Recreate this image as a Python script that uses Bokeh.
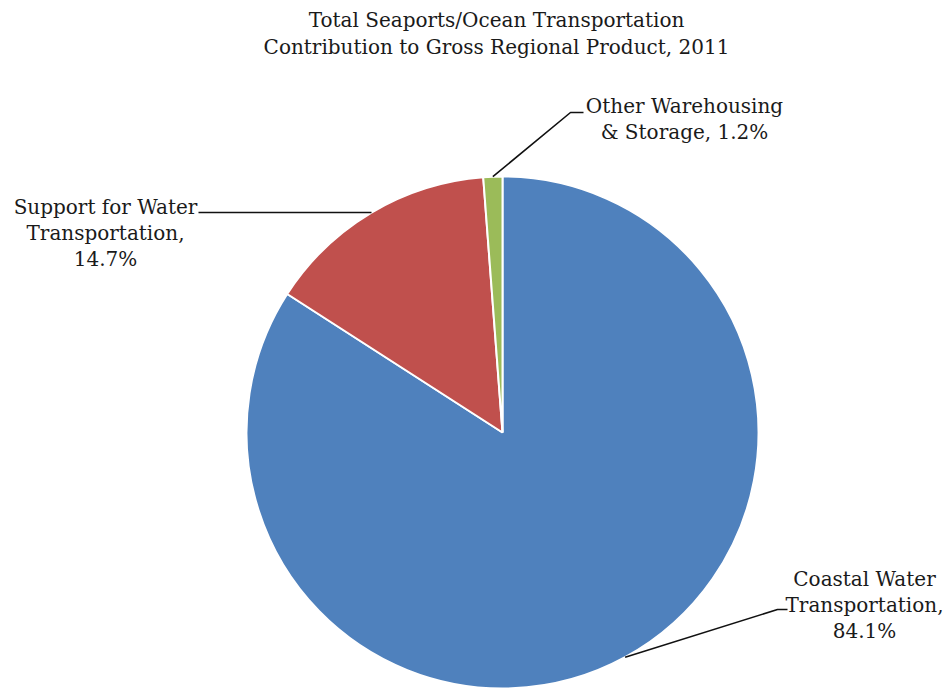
import math
from bokeh.plotting import figure
from bokeh.models import Range1d, ColumnDataSource
from bokeh.core.properties import value
from bokeh.embed import file_html
from bokeh.resources import INLINE

# ---- data ----
categories = ["Coastal Water Transportation", "Support for Water Transportation", "Other Warehousing & Storage"]
shares = [84.1, 14.7, 1.2]
colors = ["#4F81BD", "#C0504D", "#9BBB59"]
label_lines = [
    ["Coastal Water", "Transportation,", "84.1%"],
    ["Support for Water", "Transportation,", "14.7%"],
    ["Other Warehousing", "& Storage, 1.2%"],
]
title_lines = ["Total Seaports/Ocean Transportation", "Contribution to Gross Regional Product, 2011"]

W, H = 944, 690
FONT = "DejaVu Serif"
TXT = "#1a1a1a"

def Y(sy):  # screen y -> data y
    return H - sy

p = figure(width=W, height=H, output_backend="svg", toolbar_location=None,
           x_range=Range1d(0, W), y_range=Range1d(0, H),
           min_border=0, outline_line_color=None)
p.axis.visible = False
p.grid.visible = False

cx, cy, r = 502, Y(432), 256
total = sum(shares)
starts, ends, mids = [], [], []
acc = 0.0
for s in shares:
    a0 = math.pi / 2 - 2 * math.pi * acc / total
    acc += s
    a1 = math.pi / 2 - 2 * math.pi * acc / total
    starts.append(a0); ends.append(a1); mids.append((a0 + a1) / 2)

src = ColumnDataSource(dict(x=[cx] * 3, y=[cy] * 3, s=starts, e=ends, c=colors, cat=categories, v=shares))
p.wedge(x="x", y="y", radius=r, start_angle="s", end_angle="e", direction="clock",
        fill_color="c", line_color="white", line_width=2, source=src)

# leader lines: from slice mid-angle on the rim to label
elbows = [[(777, 609), (787, 609)], [(198, 212)], [(570, 112), (583, 112)]]
for m, pts in zip(mids, elbows):
    ax = cx + r * math.cos(m)
    ay = cy + r * math.sin(m)
    xs = [ax] + [q[0] for q in pts]
    ys = [ay] + [Y(q[1]) for q in pts]
    p.line(xs, ys, line_color="#111111", line_width=1.6)

# labels
label_pos = [(864, 578), (105, 206), (684, 105)]
step = 26
tx, ty, tt = [], [], []
for (lx, ly), lines in zip(label_pos, label_lines):
    for i, t in enumerate(lines):
        tx.append(lx); ty.append(Y(ly + i * step)); tt.append(t)
p.text(x=tx, y=ty, text=tt, text_align="center", text_baseline="middle",
       text_font=value(FONT), text_font_size="20px", text_color=TXT)

# title
p.text(x=[496, 496], y=[Y(19), Y(46)], text=title_lines, text_align="center", text_baseline="middle",
       text_font=value(FONT), text_font_size="20px", text_color=TXT)

open("out.html", "w").write(file_html(p, INLINE))
